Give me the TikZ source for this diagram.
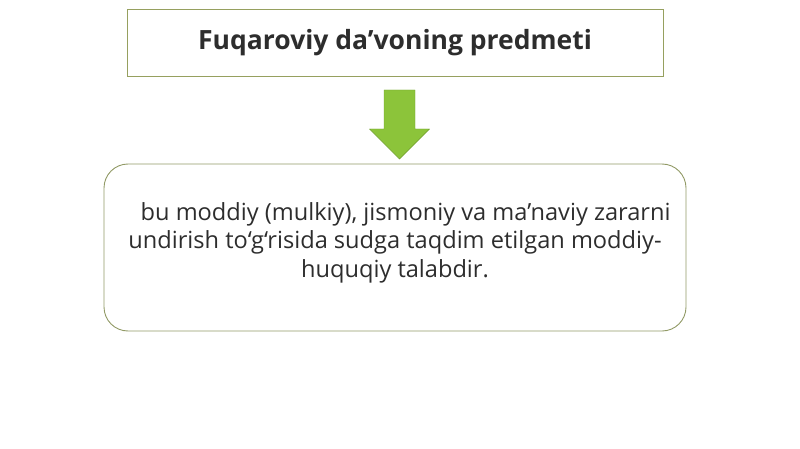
\documentclass[tikz,border=0pt]{standalone}
\usepackage{fontspec}
\setmainfont{Open Sans}
\usetikzlibrary{positioning}
\definecolor{boxline}{RGB}{150,160,95}
\definecolor{arrowgreen}{RGB}{140,196,58}
\definecolor{textgray}{RGB}{45,45,45}

\begin{document}
\begin{tikzpicture}[x=1pt,y=-1pt,
  titlebox/.style={draw=boxline,line width=0.9pt,minimum width=536pt,minimum height=67pt,inner sep=0pt,text=textgray,font=\fontsize{26.5}{32}\selectfont\bfseries},
  textbox/.style={draw=boxline!80!gray,line width=0.9pt,rounded corners=24pt,minimum width=582pt,minimum height=167pt,inner sep=0pt},
  bodytext/.style={inner sep=0pt,align=center,text=textgray,font=\fontsize{23.6}{28.5}\selectfont},
  downarrow/.style={fill=arrowgreen,draw=arrowgreen!80!black,line width=0.4pt}]
  \useasboundingbox (0,0) rectangle (800,449);
  \node[titlebox] (title) at (395,42.5) {Fuqaroviy da’voning predmeti};
  \coordinate (arrowtop) at (399.5,90);
  \draw[downarrow,shift={(arrowtop)}] (-15.5,0) -- (15.5,0) -- (15.5,39) -- (30,39) -- (0,69) -- (-30,39) -- (-15.5,39) -- cycle;
  \node[textbox] (body) at (395,247.5) {};
  \node[bodytext] (bodytext) at ([yshift=5pt]body.center) {\hspace*{0.9em}bu moddiy (mulkiy), jismoniy va ma’naviy zararni\\undirish to‘g‘risida sudga taqdim etilgan moddiy-\\huquqiy talabdir.};
\end{tikzpicture}
\end{document}
